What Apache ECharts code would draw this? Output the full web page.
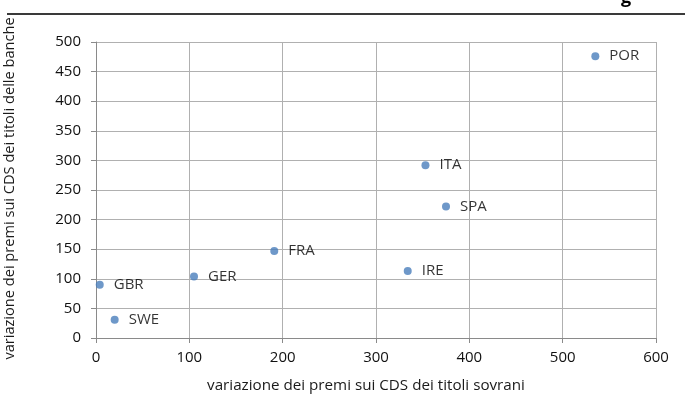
<!DOCTYPE html>
<html><head><meta charset="utf-8">
<script src="https://cdn.jsdelivr.net/npm/echarts@6/dist/echarts.min.js"></script>
<style>html,body{margin:0;padding:0;background:#fff}#c{width:685px;height:403px}</style>
</head><body><div id="c"></div>
<script>
const countries = ['POR','ITA','SPA','FRA','IRE','GER','GBR','SWE'];
const sovereignCDS = [535, 353, 375, 191, 334, 105, 4, 20];
const bankCDS = [476, 292, 222, 147, 113, 104, 90, 31];
const xTicks = [0,100,200,300,400,500,600];
const yTicks = [0,50,100,150,200,250,300,350,400,450,500];

const FONT = 'Open Sans';
const chart = echarts.init(document.getElementById('c'), null, {renderer:'canvas'});
chart.setOption({
  animation:false,
  textStyle:{fontFamily:FONT},
  graphic:[
    {type:'line', shape:{x1:7,y1:14,x2:685,y2:14}, style:{stroke:'#3a3a3a', lineWidth:2}},
    {type:'text', left:621, top:-11, style:{text:'g', font:'bold 18px '+FONT, fill:'#000'}}
  ],
  grid:{left:96, right:29, top:42, bottom:65, containLabel:false, outerBoundsMode:'none'},
  xAxis:{
    type:'value', min:xTicks[0], max:xTicks[xTicks.length-1], interval:100,
    name:'variazione dei premi sui CDS dei titoli sovrani',
    nameLocation:'middle', nameGap:40,
    nameTextStyle:{fontSize:15.2, color:'#1a1a1a', fontFamily:FONT, padding:[0,20,0,0]},
    axisLine:{show:true, onZero:false, lineStyle:{color:'#8a8a8a', width:1}},
    axisTick:{show:true, inside:false, length:5, lineStyle:{color:'#8a8a8a'}},
    axisLabel:{fontSize:15, color:'#111', margin:12, fontFamily:FONT},
    splitLine:{show:true, lineStyle:{color:'#b0b0b0', width:1}}
  },
  yAxis:{
    type:'value', min:yTicks[0], max:yTicks[yTicks.length-1], interval:50,
    name:'variazione dei premi sui CDS dei titoli delle banche',
    nameLocation:'middle', nameGap:79, nameRotate:90,
    nameTextStyle:{fontSize:14.6, color:'#1a1a1a', fontFamily:FONT, padding:[0,0,0,3]},
    axisLine:{show:true, onZero:false, lineStyle:{color:'#8a8a8a', width:1}},
    axisTick:{show:true, inside:false, length:5, lineStyle:{color:'#8a8a8a'}},
    axisLabel:{fontSize:15, color:'#111', margin:15, fontFamily:FONT},
    splitLine:{show:true, lineStyle:{color:'#b0b0b0', width:1}}
  },
  series:[{
    type:'scatter',
    symbolSize:8,
    itemStyle:{color:'#4a7ebb'},
    data: countries.map((c,i)=>({value:[sovereignCDS[i], bankCDS[i]], name:c})),
    label:{show:true, position:'right', distance:10, formatter:p=>p.name,
      fontSize:15, color:'#000', fontFamily:FONT}
  }]
});
</script></body></html>
